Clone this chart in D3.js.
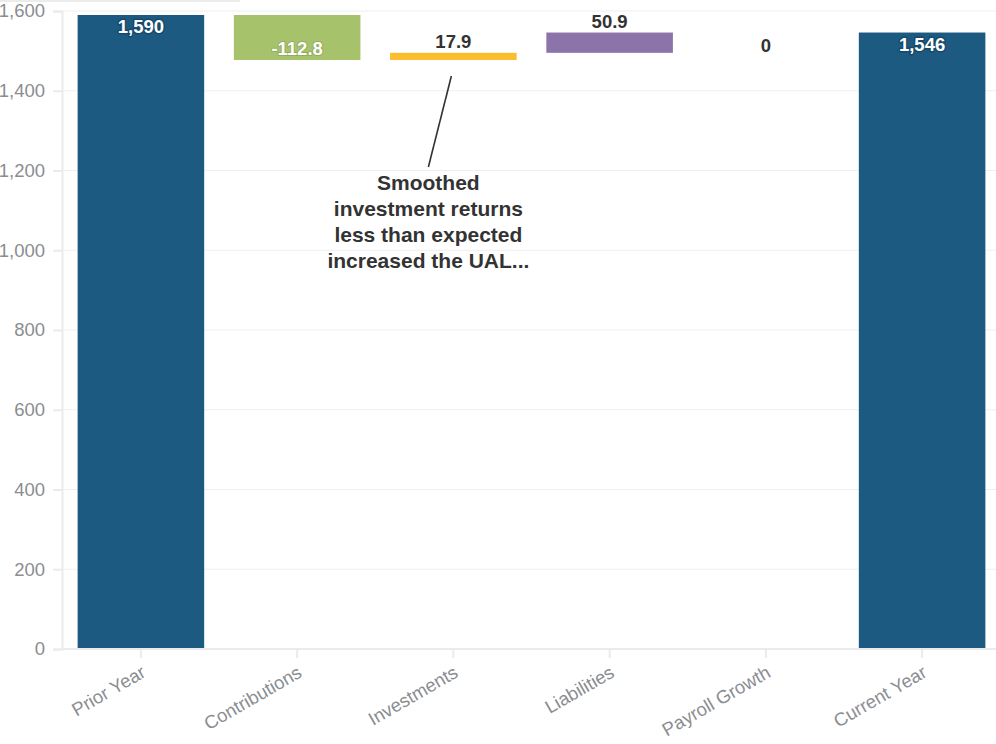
<!DOCTYPE html>
<html>
<head>
<meta charset="utf-8">
<script src="https://cdn.jsdelivr.net/npm/d3@7"></script>
<style>
  html, body { margin: 0; padding: 0; background: #fff; }
  svg { display: block; font-family: "Liberation Sans", Arial, sans-serif; }
</style>
</head>
<body>
<svg id="chart" width="996" height="744"></svg>
<script>
// Change in unfunded liability, step by step
const categories = ["Prior Year", "Contributions", "Investments", "Liabilities", "Payroll Growth", "Current Year"];
const changes = [1590, -112.8, 17.9, 50.9, 0, 1546];
const kinds = ["total", "delta", "delta", "delta", "delta", "total"];
const labels = ["1,590", "-112.8", "17.9", "50.9", "0", "1,546"];
const colors = ["#1c5a82", "#a6c36b", "#fbbd2c", "#8c74aa", "#8c74aa", "#1c5a82"];
const yTicks = [0, 200, 400, 600, 800, 1000, 1200, 1400, 1600];
const noteLines = ["Smoothed", "investment returns", "less than expected", "increased the UAL..."];

const svg = d3.select("#chart");
const plotLeft = 62, plotRight = 1001, plotTop = 11, plotBottom = 649;
const fontFam = "Liberation Sans, Arial, sans-serif";

// thin grey strip across the very top edge
svg.append("rect").attr("x", 0).attr("y", 0).attr("width", 240).attr("height", 2).attr("fill", "#ececec");

const x = d3.scaleBand().domain(categories).range([plotLeft, plotRight]).paddingInner(0.19).paddingOuter(0.1);
const y = d3.scaleLinear().domain([0, 1600]).range([plotBottom, plotTop]);

// running totals for the waterfall steps
let running = 0;
const bars = categories.map((c, i) => {
  let y0, y1;
  if (kinds[i] === "total") { y0 = 0; y1 = changes[i]; running = changes[i]; }
  else { y0 = running; y1 = running + changes[i]; running = y1; }
  return { cat: c, y0, y1, value: changes[i], label: labels[i], color: colors[i], kind: kinds[i] };
});

// gridlines
svg.append("g").selectAll("line").data(yTicks.filter(t => t > 0)).join("line")
  .attr("x1", plotLeft).attr("x2", 996)
  .attr("y1", d => y(d)).attr("y2", d => y(d))
  .attr("stroke", "#efefef").attr("stroke-width", 1);

// y axis
const yAxis = svg.append("g").attr("transform", `translate(${plotLeft},0)`)
  .call(d3.axisLeft(y).tickValues(yTicks).tickFormat(d3.format(",")).tickSize(9).tickPadding(8));
yAxis.select(".domain").attr("stroke", "#ebebeb").attr("stroke-width", 2);
yAxis.selectAll(".tick line").attr("stroke", "#ebebeb").attr("stroke-width", 2);
yAxis.selectAll(".tick text").attr("fill", "#8a8d91").attr("font-size", 18.5).attr("font-family", fontFam);

// bars
svg.append("g").selectAll("rect").data(bars).join("rect")
  .attr("x", d => x(d.cat))
  .attr("width", x.bandwidth())
  .attr("y", d => y(Math.max(d.y0, d.y1)))
  .attr("height", d => Math.abs(y(d.y0) - y(d.y1)))
  .attr("fill", d => d.color);

// x axis
const xAxis = svg.append("g").attr("transform", `translate(0,${plotBottom})`)
  .call(d3.axisBottom(x).tickSize(9));
xAxis.select(".domain").attr("stroke", "#ebebeb").attr("stroke-width", 2).attr("d", `M${plotLeft},0H996`);
xAxis.selectAll(".tick line").attr("stroke", "#ebebeb").attr("stroke-width", 2);
xAxis.selectAll(".tick text")
  .attr("fill", "#8a8d91").attr("font-size", 18.5).attr("font-family", fontFam)
  .attr("text-anchor", "end")
  .attr("x", 0).attr("y", 0).attr("dy", 0)
  .attr("transform", "translate(6,27) rotate(-30)");

// value labels
const lab = svg.append("g").attr("font-weight", "bold").attr("font-size", 18.5)
  .attr("font-family", fontFam).attr("text-anchor", "middle");
bars.forEach(d => {
  const cx = x(d.cat) + x.bandwidth() / 2;
  const topY = y(Math.max(d.y0, d.y1));
  const botY = y(Math.min(d.y0, d.y1));
  const halo = d3.color(d.color).darker(0.6).formatHex();
  if (d.kind === "total") {
    lab.append("text").attr("x", cx).attr("y", topY + 18).text(d.label)
      .attr("fill", "#fff").attr("stroke", halo).attr("stroke-width", 3).attr("paint-order", "stroke")
      .attr("stroke-linejoin", "round");
  } else if (d.value < 0) {
    lab.append("text").attr("x", cx).attr("y", botY - 5).text(d.label)
      .attr("fill", "#fff").attr("stroke", halo).attr("stroke-width", 2).attr("stroke-opacity", 0.6)
      .attr("paint-order", "stroke").attr("stroke-linejoin", "round");
  } else if (d.value > 0) {
    lab.append("text").attr("x", cx).attr("y", topY - 5).text(d.label).attr("fill", "#333");
  } else {
    lab.append("text").attr("x", cx).attr("y", topY + 19.5).text(d.label).attr("fill", "#333");
  }
});

// annotation for the investments step
const inv = bars[2];
const ax = x(inv.cat) + x.bandwidth() / 2;
svg.append("line")
  .attr("x1", ax - 2).attr("y1", y(inv.y0) + 16)
  .attr("x2", ax - 25).attr("y2", y(inv.y0) + 107)
  .attr("stroke", "#333").attr("stroke-width", 1.6);
const note = svg.append("text").attr("text-anchor", "middle").attr("font-weight", "bold")
  .attr("font-family", fontFam).attr("font-size", 21).attr("fill", "#333");
noteLines.forEach((t, i) => {
  note.append("tspan").attr("x", ax - 25).attr("y", 190 + i * 26).text(t);
});
</script>
</body>
</html>
